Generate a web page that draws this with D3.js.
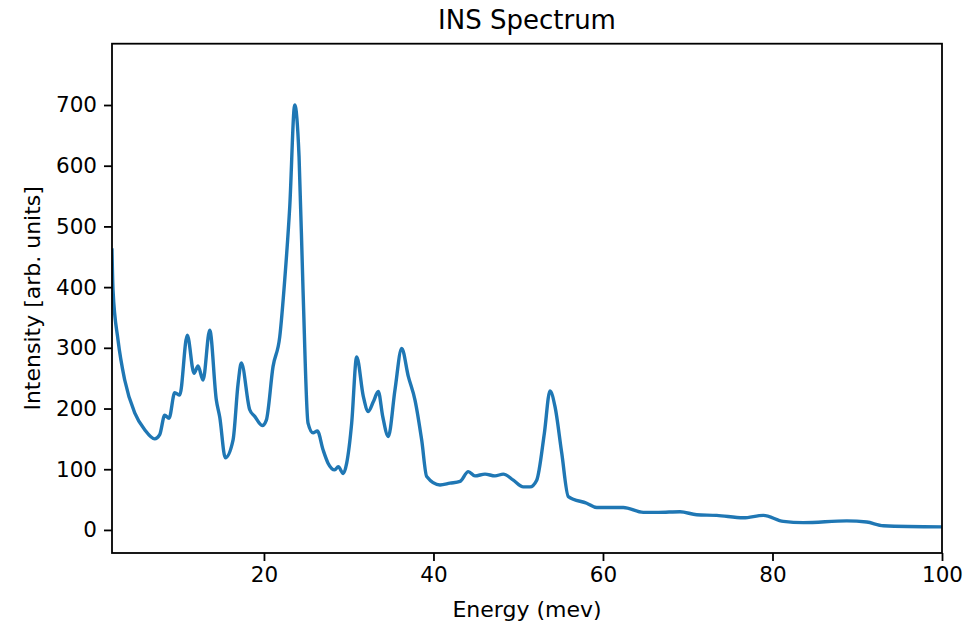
<!DOCTYPE html>
<html>
<head>
<meta charset="utf-8">
<script src="https://cdn.jsdelivr.net/npm/d3@7/dist/d3.min.js"></script>
<style>
  html, body { margin: 0; padding: 0; background: #fff; }
  svg { display: block; font-family: "DejaVu Sans", sans-serif; }
</style>
</head>
<body>
<svg id="chart" width="966" height="627"></svg>
<script>
// ---- data ----
const energy = [2.07, 2.19, 2.78, 3.57, 4.75, 5.93, 7.11, 7.70, 8.29, 8.80, 9.47, 10.06, 10.95, 11.75, 12.22, 12.81, 13.60, 14.38, 14.78, 15.44, 16.35, 16.94, 17.33, 18.32, 18.91, 19.80, 20.28, 21.07, 21.86, 22.45, 23.04, 23.63, 24.14, 24.61, 25.20, 25.79, 26.30, 26.97, 27.56, 28.35, 28.77, 29.36, 29.76, 30.35, 30.94, 31.72, 32.31, 32.90, 33.49, 34.01, 34.67, 35.46, 36.25, 37.03, 37.82, 38.61, 39.20, 40.77, 41.95, 43.13, 44.11, 44.90, 46.08, 47.26, 48.24, 49.42, 50.60, 51.39, 52.18, 53.08, 53.75, 54.34, 55.13, 55.91, 58.08, 59.26, 62.40, 64.76, 66.53, 69.09, 71.06, 73.42, 76.56, 78.92, 81.28, 83.64, 88.76, 91.12, 93.08, 100.0];
const intensity = [461, 395, 313, 247, 193, 165, 150, 157, 189, 184, 226, 222, 321, 258, 270, 247, 329, 214, 186, 119, 148, 240, 275, 198, 187, 172, 181, 269, 318, 412, 532, 700, 615, 395, 176, 160, 163, 132, 110, 99, 104, 93, 110, 176, 285, 220, 195, 211, 228, 187, 154, 231, 299, 253, 214, 148, 88, 74, 77, 80, 96, 89, 92, 89, 92, 82, 71, 71, 82, 159, 229, 203, 127, 55, 44, 37, 37, 29, 29, 30, 25, 24, 20, 24, 14, 12, 15, 13, 7, 5, 5];
const xTicks = [20, 40, 60, 80, 100];
const yTicks = [0, 100, 200, 300, 400, 500, 600, 700];
const titleText = "INS Spectrum";
const xLabel = "Energy (mev)";
const yLabel = "Intensity [arb. units]";

// ---- layout ----
const svg = d3.select("#chart");
const mL = 112, mR = 942, mT = 43.7, mB = 553;
const x = d3.scaleLinear().domain([2.07, 100]).range([mL, mR]);
const y = d3.scaleLinear().domain([-38, 801]).range([mB, mT]);

svg.append("defs").append("clipPath").attr("id", "clip")
  .append("rect").attr("x", mL).attr("y", mT)
  .attr("width", mR - mL).attr("height", mB - mT);

const data = energy.map((e, i) => ({ e, v: intensity[i] }));
const line = d3.line().x(d => x(d.e)).y(d => y(d.v)).curve(d3.curveMonotoneX);

svg.append("path")
  .datum(data)
  .attr("clip-path", "url(#clip)")
  .attr("fill", "none")
  .attr("stroke", "#1f77b4")
  .attr("stroke-width", 3.4)
  .attr("stroke-linejoin", "round")
  .attr("stroke-linecap", "square")
  .attr("d", line);

// axes
const xAxis = d3.axisBottom(x).tickValues(xTicks).tickSize(8).tickPadding(6).tickFormat(d3.format("d"));
const yAxis = d3.axisLeft(y).tickValues(yTicks).tickSize(8).tickPadding(7).tickFormat(d3.format("d"));

const gx = svg.append("g").attr("transform", `translate(0,${mB})`).call(xAxis);
const gy = svg.append("g").attr("transform", `translate(${mL},0)`).call(yAxis);
[gx, gy].forEach(g => {
  g.select(".domain").remove();
  g.selectAll(".tick line").attr("stroke", "#000").attr("stroke-width", 1.8);
  g.selectAll(".tick text").attr("fill", "#000").style("font-size", "21.5px")
    .style("font-family", "DejaVu Sans");
});

// frame
svg.append("rect")
  .attr("x", mL).attr("y", mT)
  .attr("width", mR - mL).attr("height", mB - mT)
  .attr("fill", "none").attr("stroke", "#000").attr("stroke-width", 1.8);

// labels
svg.append("text")
  .attr("x", (mL + mR) / 2).attr("y", 29)
  .attr("text-anchor", "middle")
  .style("font-size", "26px")
  .text(titleText);

svg.append("text")
  .attr("x", (mL + mR) / 2).attr("y", 617)
  .attr("text-anchor", "middle")
  .style("font-size", "22px")
  .text(xLabel);

svg.append("text")
  .attr("transform", `translate(40,${(mT + mB) / 2}) rotate(-90)`)
  .attr("text-anchor", "middle")
  .style("font-size", "22px")
  .text(yLabel);
</script>
</body>
</html>
